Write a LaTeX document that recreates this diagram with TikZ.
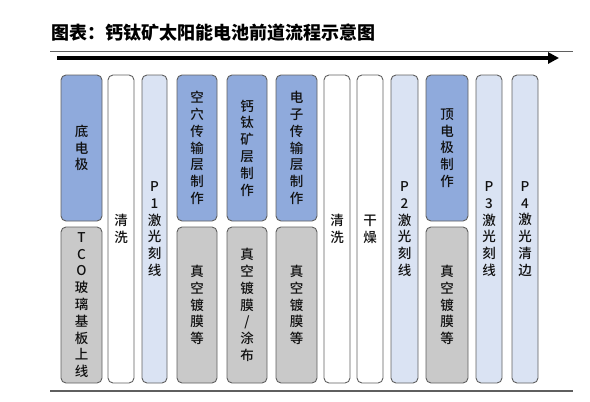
\documentclass[tikz,border=0pt]{standalone}
\usepackage{fontspec}
\setmainfont{Noto Sans CJK SC}
\IfFontExistsTF{Noto Sans CJK SC Medium}
  {\newfontfamily\boxfont{Noto Sans CJK SC Medium}}
  {\newfontfamily\boxfont{Noto Sans CJK SC}}
\IfFontExistsTF{Noto Sans CJK SC Black}
  {\newfontfamily\titlefont{Noto Sans CJK SC Black}}
  {\IfFontExistsTF{Noto Sans CJK SC Bold}
    {\newfontfamily\titlefont{Noto Sans CJK SC Bold}}
    {\newfontfamily\titlefont{Noto Sans CJK SC}}}
\usetikzlibrary{arrows.meta}

\definecolor{stepblue}{HTML}{8FAADC}
\definecolor{steplight}{HTML}{DAE3F3}
\definecolor{stepgrey}{HTML}{C9C9C9}
\definecolor{stepline}{HTML}{5F5F5F}
\definecolor{steptext}{HTML}{111111}

\tikzset{
  stepbox/.style={draw=stepline, line width=0.9pt, rounded corners=5pt,
    inner sep=0pt, align=center, text=steptext,
    font=\boxfont\fontsize{13.5}{16.8}\selectfont},
  upper/.style={stepbox, fill=stepblue, minimum height=146pt},
  lower/.style={stepbox, fill=stepgrey, minimum height=156pt},
  tallw/.style={stepbox, fill=white, minimum height=308pt},
  talll/.style={stepbox, fill=steplight, minimum height=308pt},
}

\begin{document}
\begin{tikzpicture}[x=1pt, y=-1pt]
  \useasboundingbox (0,0) rectangle (590,402);

  % title
  \node[anchor=west, inner sep=0pt, font=\titlefont\fontsize{18}{20}\selectfont] (title)
    at (51,33) {图表：钙钛矿太阳能电池前道流程示意图};

  % rules and arrow
  \coordinate (ruletopl) at (50,51);
  \coordinate (ruletopr) at (573,51);
  \coordinate (rulebotl) at (50,391);
  \coordinate (rulebotr) at (573,391);
  \coordinate (arrowstart) at (57,58);
  \coordinate (arrowend) at (559,58);
  \draw[stepline, line width=1pt] (ruletopl) -- (ruletopr);
  \draw[stepline, line width=1.5pt] (rulebotl) -- (rulebotr);
  \draw[line width=3.2pt, -{Triangle[length=11pt, width=11pt]}] (arrowstart) -- (arrowend);

  % process steps
  \node[upper, minimum width=41pt] (s1a) at (81.5,148) {底\\电\\极};
  \node[lower, minimum width=41pt] (s1b) at (81.5,305) {T\\C\\O\\玻\\璃\\基\\板\\上\\线};
  \node[tallw, minimum width=26pt] (s2) at (121,229) {清\\洗};
  \node[talll, minimum width=25pt] (s3) at (154.5,229) {P\\1\\激\\光\\刻\\线};
  \node[upper, minimum width=40pt] (s4a) at (197,148) {空\\穴\\传\\输\\层\\制\\作};
  \node[lower, minimum width=40pt] (s4b) at (197,305) {真\\空\\镀\\膜\\等};
  \node[upper, minimum width=40pt] (s5a) at (247,148) {钙\\钛\\矿\\层\\制\\作};
  \node[lower, minimum width=40pt] (s5b) at (247,305) {真\\空\\镀\\膜\\/\\涂\\布};
  \node[upper, minimum width=41pt] (s6a) at (296.5,148) {电\\子\\传\\输\\层\\制\\作};
  \node[lower, minimum width=41pt] (s6b) at (296.5,305) {真\\空\\镀\\膜\\等};
  \node[tallw, minimum width=26pt] (s7) at (337,229) {清\\洗};
  \node[tallw, minimum width=26pt] (s8) at (370,229) {干\\燥};
  \node[talll, minimum width=27pt] (s9) at (404.5,229) {P\\2\\激\\光\\刻\\线};
  \node[upper, minimum width=42pt] (s10a) at (447,148) {顶\\电\\极\\制\\作};
  \node[lower, minimum width=42pt] (s10b) at (447,305) {真\\空\\镀\\膜\\等};
  \node[talll, minimum width=26pt] (s11) at (489,229) {P\\3\\激\\光\\刻\\线};
  \node[talll, minimum width=26pt] (s12) at (525,229) {P\\4\\激\\光\\清\\边};

\end{tikzpicture}
\end{document}
